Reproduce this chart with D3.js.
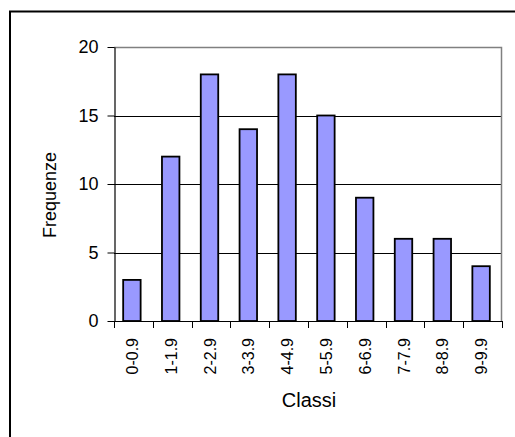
<!DOCTYPE html>
<html>
<head>
<meta charset="utf-8">
<script src="https://cdn.jsdelivr.net/npm/d3@7/dist/d3.min.js"></script>
<style>
  html, body { margin: 0; padding: 0; background: #fff; }
  svg { display: block; }
  text { font-family: "Liberation Sans", Arial, sans-serif; fill: #000; }
</style>
</head>
<body>
<svg id="chart" width="515" height="437"></svg>
<script>
// Frequency distribution by class
const categories = ["0-0.9", "1-1.9", "2-2.9", "3-3.9", "4-4.9", "5-5.9", "6-6.9", "7-7.9", "8-8.9", "9-9.9"];
const frequencies = [3, 12, 18, 14, 18, 15, 9, 6, 6, 4];
const yTicks = [0, 5, 10, 15, 20];
const xTitle = "Classi";
const yTitle = "Frequenze";

const svg = d3.select("#chart");
const plot = { left: 114, top: 47, right: 502, bottom: 321 };

// Outer chart frame (only top and left edges fall inside the view)
svg.append("rect")
  .attr("x", 10).attr("y", 11.5)
  .attr("width", 520).attr("height", 440)
  .attr("fill", "none").attr("stroke", "#000").attr("stroke-width", 2);

const x = d3.scaleBand()
  .domain(categories)
  .range([plot.left, plot.right])
  .paddingInner(0.55)
  .paddingOuter(0.275);

const y = d3.scaleLinear()
  .domain([0, 20])
  .range([plot.bottom, plot.top]);

// Horizontal gridlines
svg.append("g")
  .selectAll("line")
  .data(yTicks.filter(d => d > 0 && d < 20))
  .join("line")
  .attr("x1", plot.left).attr("x2", plot.right)
  .attr("y1", d => Math.round(y(d)) + 0.5).attr("y2", d => Math.round(y(d)) + 0.5)
  .attr("stroke", "#000").attr("stroke-width", 1);

// Plot area top and right edges in grey
svg.append("path")
  .attr("d", `M${plot.left},${y(20) + 0.5}H${plot.right - 0.5}V${plot.bottom}`)
  .attr("fill", "none").attr("stroke", "#808080").attr("stroke-width", 1.5);

// Bars
svg.append("g")
  .selectAll("rect")
  .data(frequencies)
  .join("rect")
  .attr("x", (d, i) => x(categories[i]) - 1.5)
  .attr("y", d => y(d))
  .attr("width", x.bandwidth())
  .attr("height", d => y(0) - y(d))
  .attr("fill", "#9999FF")
  .attr("stroke", "#000")
  .attr("stroke-width", 1.8);

// Y axis
const yAxis = svg.append("g")
  .attr("transform", `translate(${plot.left + 0.5},0)`)
  .call(d3.axisLeft(y).tickValues(yTicks).tickSize(7).tickPadding(9).tickSizeOuter(0));
yAxis.select(".domain").attr("stroke", "#000").attr("stroke-width", 1.2);
yAxis.selectAll(".tick line").attr("stroke", "#000");
yAxis.selectAll("text")
  .style("font-size", "18px")
  .style("font-family", "'Liberation Sans', Arial, sans-serif");

// X axis baseline with ticks at category boundaries
const step = x.step();
const boundaries = d3.range(categories.length + 1).map(i => plot.left + i * step);
svg.append("line")
  .attr("x1", plot.left).attr("x2", plot.right + 1)
  .attr("y1", plot.bottom + 0.5).attr("y2", plot.bottom + 0.5)
  .attr("stroke", "#000").attr("stroke-width", 1.2);
svg.append("g")
  .selectAll("line")
  .data(boundaries)
  .join("line")
  .attr("x1", d => Math.round(d) + 0.5).attr("x2", d => Math.round(d) + 0.5)
  .attr("y1", plot.bottom).attr("y2", plot.bottom + 7)
  .attr("stroke", "#000").attr("stroke-width", 1);

// Rotated category labels
svg.append("g")
  .selectAll("text")
  .data(categories)
  .join("text")
  .attr("transform", d => `translate(${x(d) + x.bandwidth() / 2 - 1},${plot.bottom + 17}) rotate(-90)`)
  .attr("text-anchor", "end")
  .attr("dy", "0.35em")
  .style("font-size", "16px")
  .text(d => d);

// Axis titles
svg.append("text")
  .attr("x", 309).attr("y", 407)
  .attr("text-anchor", "middle")
  .style("font-size", "20px")
  .text(xTitle);

svg.append("text")
  .attr("transform", `translate(56,195) rotate(-90)`)
  .attr("text-anchor", "middle")
  .style("font-size", "18px")
  .text(yTitle);
</script>
</body>
</html>
